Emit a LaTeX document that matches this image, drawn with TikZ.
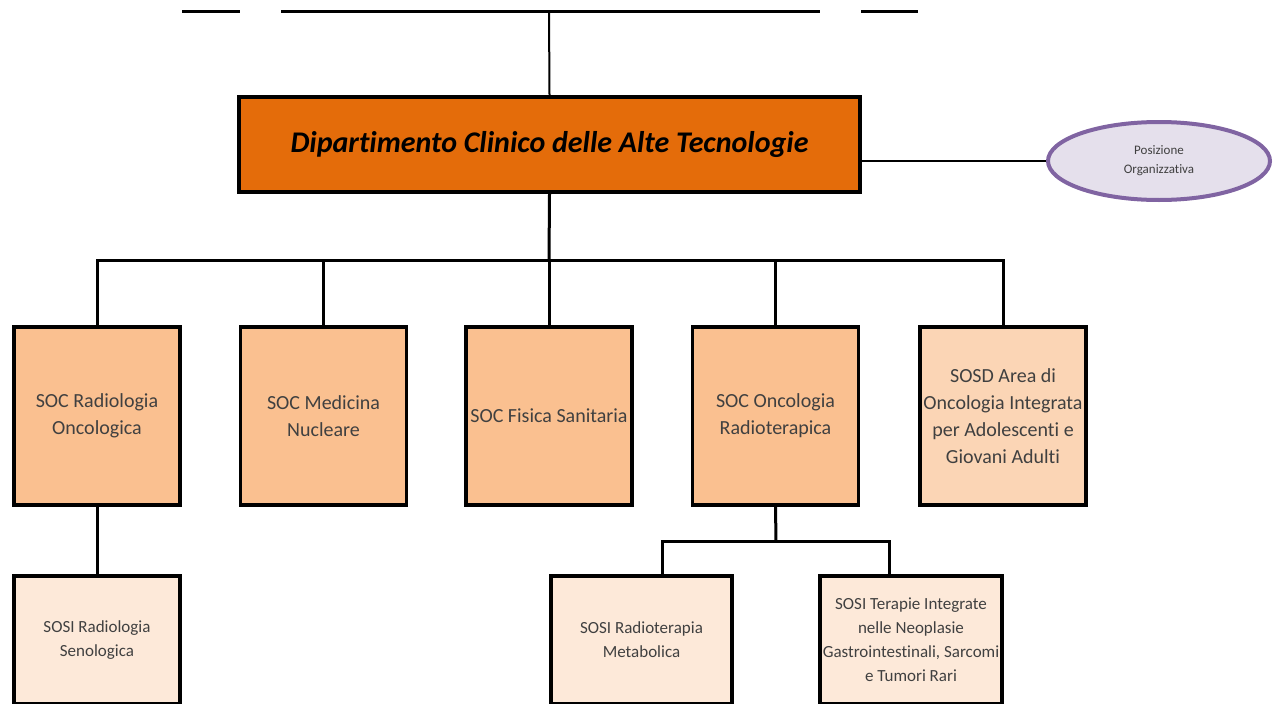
\documentclass[tikz,border=0pt]{standalone}
\usepackage{fontspec}
\setmainfont{Carlito}[Ligatures=NoCommon]
\usetikzlibrary{shapes.geometric}
\definecolor{deptorange}{HTML}{E46C0A}
\definecolor{socfill}{HTML}{FAC090}
\definecolor{sosdfill}{HTML}{FBD5B5}
\definecolor{sosifill}{HTML}{FDE9D9}
\definecolor{pofill}{HTML}{E5E0EC}
\definecolor{podraw}{HTML}{8064A2}
\definecolor{unittext}{HTML}{404040}
\tikzset{
    MyDept/.style={draw=black,line width=4pt,fill=deptorange,inner sep=0pt,
    minimum width=621pt,minimum height=95pt,font=\fontsize{30}{34}\selectfont\bfseries\itshape},
    MyUnit/.style={draw=black,line width=3.5pt,inner sep=0pt,align=center,text=unittext,
    minimum width=166pt,minimum height=178pt,font=\fontsize{20}{27}\selectfont},
    MySub/.style={draw=black,line width=3.5pt,inner sep=0pt,align=center,text=unittext,
    minimum height=128pt,font=\fontsize{17}{24}\selectfont,fill=sosifill},
    MyLink/.style={black,line width=3pt}    }

\begin{document}
\begin{tikzpicture}[x=1pt,y=-1pt]
    \useasboundingbox (0,0) rectangle (1277,704);

    % department and position
    \node[MyDept] (dept) at (549.5,144.5) {Dipartimento Clinico delle Alte Tecnologie};
    \node[ellipse,draw=podraw,line width=4pt,fill=pofill,minimum width=222pt,minimum height=78pt,
      inner sep=0pt,align=center,text=unittext,font=\fontsize{13}{19}\selectfont]
      (po) at (1159,161) {Posizione\\Organizzativa};

    % upper level
    \coordinate (top) at (549,11);
    \coordinate (topa) at (182,11);
    \coordinate (topb) at (240,11);
    \coordinate (topc) at (281,11);
    \coordinate (topd) at (820,11);
    \coordinate (tope) at (861,11);
    \coordinate (topf) at (918,11);
    \draw[MyLink] (topa) -- (topb);
    \draw[MyLink] (topc) -- (topd);
    \draw[MyLink] (tope) -- (topf);
    \draw[black,line width=2pt] (top) -- (dept.north);
    \draw[black,line width=2.5pt] (dept.east |- po.west) -- (po.west);

    % SOC and SOSD
    \node[MyUnit,fill=socfill] (socrad) at (97,416) {SOC Radiologia\\Oncologica};
    \node[MyUnit,fill=socfill] (socmed) at (323.5,416) {SOC Medicina\\Nucleare};
    \node[MyUnit,fill=socfill] (socfis) at (549,416) {SOC Fisica Sanitaria};
    \node[MyUnit,fill=socfill] (soconc) at (775.5,416) {SOC Oncologia\\Radioterapica};
    \node[MyUnit,fill=sosdfill] (sosd) at (1003,416) {SOSD Area di\\Oncologia Integrata\\per Adolescenti e\\Giovani Adulti};

    \coordinate (bus) at (549,260);
    \draw[MyLink] (dept.south) -- (bus);
    \draw[MyLink] (socrad.north) -- (socrad.north |- bus) -- (sosd.north |- bus) -- (sosd.north);
    \foreach \n in {socmed,socfis,soconc}
        \draw[MyLink] (\n.north) -- (\n.north |- bus);

    % SOSI
    \node[MySub,minimum width=166pt] (sosisen) at (97,640) {SOSI Radiologia\\Senologica};
    \node[MySub,minimum width=181pt] (sosimet) at (641.5,640) {SOSI Radioterapia\\Metabolica};
    \node[MySub,minimum width=182pt] (sositer) at (911,640) {SOSI Terapie Integrate\\nelle Neoplasie\\Gastrointestinali, Sarcomi\\e Tumori Rari};

    \draw[MyLink] (socrad.south) -- (sosisen.north);
    \coordinate (split) at (776,541);
    \draw[MyLink] (soconc.south) -- (split);
    \draw[MyLink] ([xshift=21pt]sosimet.north) |- (split) -| ([xshift=-22pt]sositer.north);
\end{tikzpicture}
\end{document}
